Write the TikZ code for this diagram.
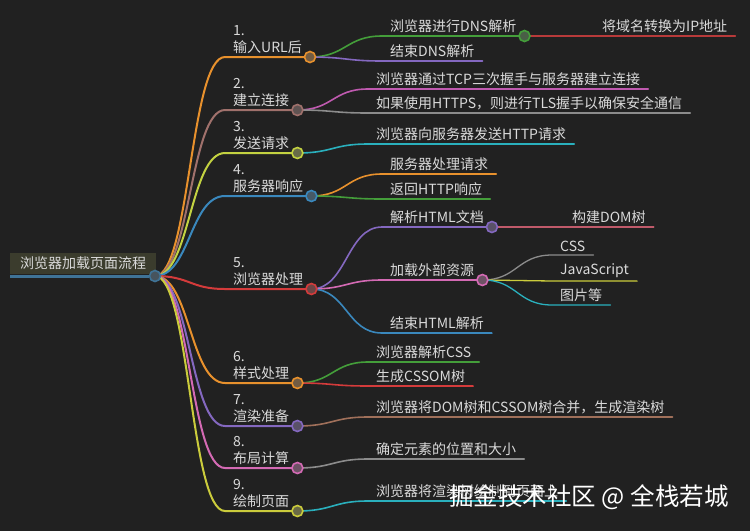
\documentclass[tikz,border=0pt]{standalone}
\usepackage{fontspec}
\setmainfont{Noto Sans CJK SC}
\usepackage{xcolor}
\usetikzlibrary{calc}

\definecolor{bgcol}{HTML}{212121}
\definecolor{txtcol}{HTML}{DADADA}
\definecolor{dotcol}{HTML}{4A4A4A}
\definecolor{rootfill}{HTML}{3B3C2D}
\definecolor{rootblue}{HTML}{3F7396}
\definecolor{corange}{HTML}{E8912D}
\definecolor{crose}{HTML}{A0716C}
\definecolor{clime}{HTML}{C3D241}
\definecolor{cblue}{HTML}{3A88BD}
\definecolor{cred}{HTML}{D43B3B}
\definecolor{cdred}{HTML}{B83A3A}
\definecolor{cpurple}{HTML}{8468C0}
\definecolor{cpink}{HTML}{D46AB4}
\definecolor{cyellow}{HTML}{CBCC3C}
\definecolor{cgreen}{HTML}{449E3A}
\definecolor{cmag}{HTML}{C05AB0}
\definecolor{cgray}{HTML}{8C8C8C}
\definecolor{ccyan}{HTML}{2AB0BD}
\definecolor{cbrown}{HTML}{A0705A}
\definecolor{cdom}{HTML}{C05A6A}

\pgfdeclarelayer{back}
\pgfdeclarelayer{lines}
\pgfsetlayers{back,lines,main}

\tikzset{
  lab/.style={anchor=south west, inner xsep=8pt, inner ysep=3pt, text=txtcol,
    align=left, font=\fontsize{14}{17}\selectfont},
  dot/.style={circle, draw=#1, fill=#1!25!dotcol, line width=1.6pt,
    minimum size=11pt, inner sep=0pt},
  rootbox/.style={anchor=south west, fill=rootfill, text=txtcol, inner xsep=10pt,
    inner ysep=4pt, font=\fontsize{14}{17}\selectfont},
}

% 分支：父节点圆点 -> 子节点下划线
\newcommand{\branch}[4][1.6pt]{%
  \draw[#2, line width=#1, line cap=round] let \p1=(#3), \p2=(#4.south west) in
    (\p1) .. controls ({(\x1+\x2)/2},\y1) and ({(\x1+\x2)/2},\y2) .. (\p2)
    -- (#4.south east);}

\begin{document}
\begin{tikzpicture}[x=1pt, y=-1pt]
    % 背景
    \begin{pgfonlayer}{back}
      \fill[bgcol] (0,0) rectangle (750,531);
    \end{pgfonlayer}
    \useasboundingbox (0,0) rectangle (750,531);

    % 根节点
    \node[rootbox] (root) at (10,274) {浏览器加载页面流程};
    \node[dot=rootblue] (d0) at (155,276) {};

    % 一级节点
    \node[lab] (n1) at (225,57) {1.\\输入URL后};
    \node[lab] (n2) at (225,110) {2.\\建立连接};
    \node[lab] (n3) at (225,153) {3.\\发送请求};
    \node[lab] (n4) at (225,196) {4.\\服务器响应};
    \node[lab] (n5) at (225,289) {5.\\浏览器处理};
    \node[lab] (n6) at (225,383) {6.\\样式处理};
    \node[lab] (n7) at (225,426) {7.\\渲染准备};
    \node[lab] (n8) at (225,468) {8.\\布局计算};
    \node[lab] (n9) at (225,511) {9.\\绘制页面};
    \node[dot=corange] (d1) at (n1.south east) {};
    \node[dot=crose] (d2) at (n2.south east) {};
    \node[dot=clime] (d3) at (n3.south east) {};
    \node[dot=cblue] (d4) at (n4.south east) {};
    \node[dot=cred] (d5) at (n5.south east) {};
    \node[dot=corange] (d6) at (n6.south east) {};
    \node[dot=cpurple] (d7) at (n7.south east) {};
    \node[dot=cpink] (d8) at (n8.south east) {};
    \node[dot=cyellow] (d9) at (n9.south east) {};

    % 二级节点
    \node[lab] (n1a) at (382,36) {浏览器进行DNS解析};
    \node[dot=cgreen] (d1a) at (n1a.south east) {};
    \node[lab] (n1a1) at (594,36) {将域名转换为IP地址};
    \node[lab] (n1b) at (382,61) {结束DNS解析};
    \node[lab] (n2a) at (368,89) {浏览器通过TCP三次握手与服务器建立连接};
    \node[lab] (n2b) at (368,113) {如果使用HTTPS，则进行TLS握手以确保安全通信};
    \node[lab] (n3a) at (368,144) {浏览器向服务器发送HTTP请求};
    \node[lab] (n4a) at (382,174) {服务器处理请求};
    \node[lab] (n4b) at (382,199) {返回HTTP响应};
    \node[lab] (n5a) at (382,227) {解析HTML文档};
    \node[dot=cpurple] (d5a) at (n5a.south east) {};
    \node[lab] (n5a1) at (564,227) {构建DOM树};
    \node[lab] (n5b) at (382,280) {加载外部资源};
    \node[dot=cpink] (d5b) at (n5b.south east) {};
    \node[lab] (n5b1) at (552,255) {CSS};
    \node[lab] (n5b2) at (552,281) {JavaScript};
    \node[lab] (n5b3) at (552,305) {图片等};
    \node[lab] (n5c) at (382,333) {结束HTML解析};
    \node[lab] (n6a) at (368,362) {浏览器解析CSS};
    \node[lab] (n6b) at (368,386) {生成CSSOM树};
    \node[lab] (n7a) at (368,417) {浏览器将DOM树和CSSOM树合并，生成渲染树};
    \node[lab] (n8a) at (368,459) {确定元素的位置和大小};
    \node[lab] (n9a) at (368,501) {浏览器将渲染树绘制到页面上};

    % 连线
    \begin{pgfonlayer}{lines}
      \draw[rootblue, line width=3pt] (root.south west |- d0) -- (d0);
      \branch[2pt]{corange}{d0}{n1}
      \branch[2pt]{crose}{d0}{n2}
      \branch[2pt]{clime}{d0}{n3}
      \branch[2pt]{cblue}{d0}{n4}
      \branch[2pt]{cred}{d0}{n5}
      \branch[2pt]{corange}{d0}{n6}
      \branch[2pt]{cpurple}{d0}{n7}
      \branch[2pt]{cpink}{d0}{n8}
      \branch[2pt]{cyellow}{d0}{n9}
      \branch{cgreen}{d1}{n1a}
      \branch[1.3pt]{cdred}{d1a}{n1a1}
      \branch{cpurple}{d1}{n1b}
      \branch{cmag}{d2}{n2a}
      \branch{cgray}{d2}{n2b}
      \branch{ccyan}{d3}{n3a}
      \branch{corange}{d4}{n4a}
      \branch{cgreen}{d4}{n4b}
      \branch{cpurple}{d5}{n5a}
      \branch[1.3pt]{cdom}{d5a}{n5a1}
      \branch{cpink}{d5}{n5b}
      \branch[1.3pt]{cgray}{d5b}{n5b1}
      \branch[1.3pt]{cyellow}{d5b}{n5b2}
      \branch[1.3pt]{ccyan}{d5b}{n5b3}
      \branch{cblue}{d5}{n5c}
      \branch{cgreen}{d6}{n6a}
      \branch{cred}{d6}{n6b}
      \branch{cbrown}{d7}{n7a}
      \branch{cgray}{d8}{n8a}
      \branch{ccyan}{d9}{n9a}
    \end{pgfonlayer}

    % 水印
    \node[text=white, font=\fontsize{24.5}{27}\selectfont] (wm) at (589,497) {掘金技术社区 @ 全栈若城};
\end{tikzpicture}
\end{document}
